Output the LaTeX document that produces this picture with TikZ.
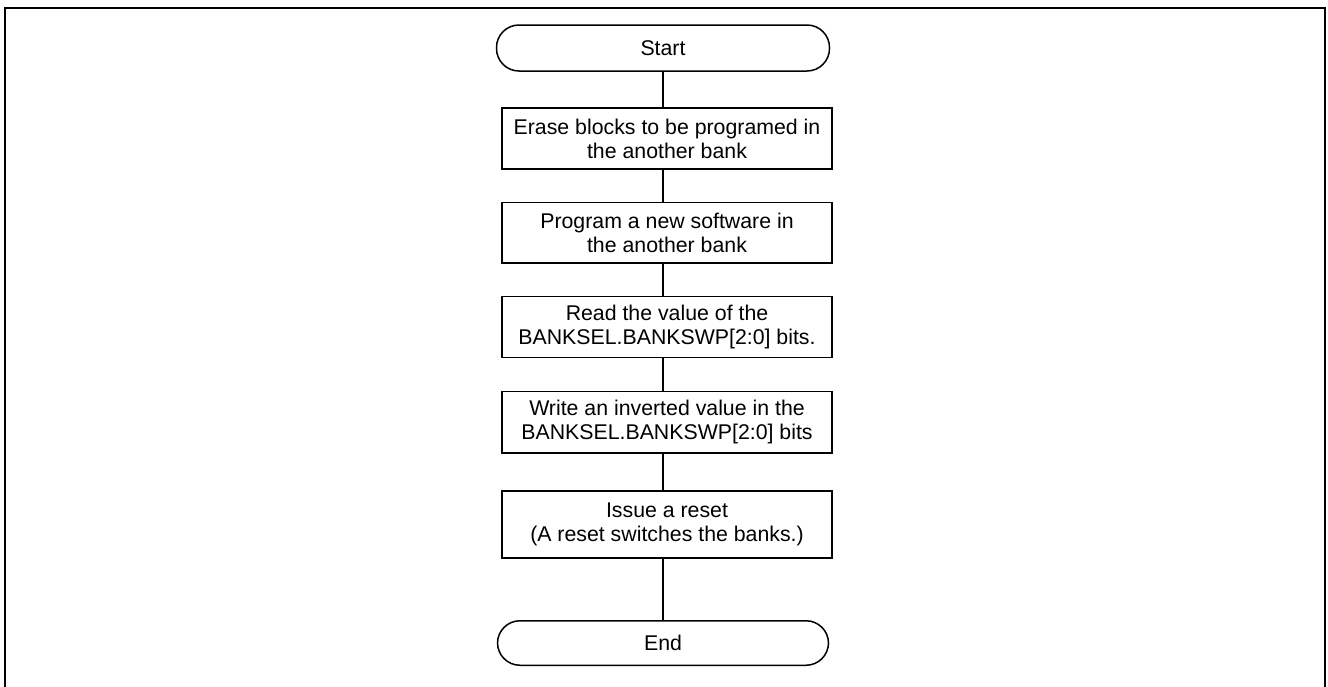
\documentclass[tikz,border=0pt]{standalone}
\usepackage{fontspec}
\setmainfont{Liberation Sans}
\begin{document}
\begin{tikzpicture}[x=1pt,y=-1pt,
  every node/.style={font=\fontsize{21.3}{23.8}\selectfont},
  procbox/.style={draw,line width=1.5pt,minimum width=330pt,align=center,inner sep=0pt},
  termbox/.style={draw,line width=1.5pt,minimum width=333pt,minimum height=46pt,rounded corners=22.5pt,inner sep=0pt},
  flow/.style={line width=1.3pt}]
\useasboundingbox (0,0) rectangle (1328,686);
\draw[line width=2pt] (5,700) -- (5,8) -- (1325,8) -- (1325,700);
\node[termbox] (start) at (663,48) {Start};
\node[procbox,minimum height=61pt] (erase) at (667,138.5) {Erase blocks to be programed in\\the another bank};
\node[procbox,minimum height=60.5pt] (program) at (667,232.5) {Program a new software in\\the another bank};
\node[procbox,minimum height=61pt] (read) at (667,327) {Read the value of the\\BANKSEL.BANKSWP[2:0] bits.};
\node[procbox,minimum height=61.5pt] (write) at (667,422) {Write an inverted value in the\\BANKSEL.BANKSWP[2:0] bits};
\node[procbox,minimum height=67pt] (issue) at (667,524.7) {Issue a reset\\(A reset switches the banks.)};
\node[termbox,minimum height=44.5pt,minimum width=331pt] (end) at (663,643) {End};
\draw[flow] (start.south) -- (erase.north -| start.south);
\draw[flow] (erase.south -| start.south) -- (program.north -| start.south);
\draw[flow] (program.south -| start.south) -- (read.north -| start.south);
\draw[flow] (read.south -| start.south) -- (write.north -| start.south);
\draw[flow] (write.south -| start.south) -- (issue.north -| start.south);
\draw[flow] (issue.south -| start.south) -- (end.north);
\end{tikzpicture}
\end{document}
